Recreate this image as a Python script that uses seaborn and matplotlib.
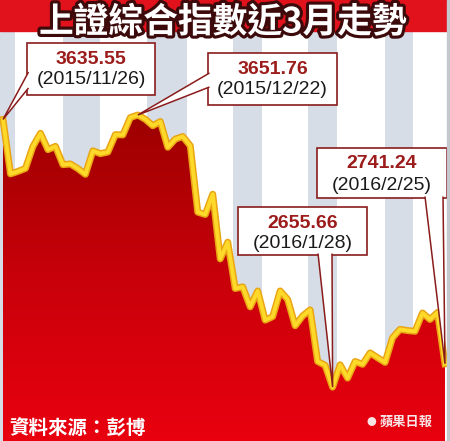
import numpy as np
import pandas as pd
import matplotlib
matplotlib.use("Agg")
import matplotlib.pyplot as plt
import matplotlib.patheffects as pe
from matplotlib.patches import Rectangle, Polygon
from matplotlib.colors import LinearSegmentedColormap
import seaborn as sns

# trading days 2015/11/26 - 2016/2/25 and Shanghai composite close
days = ["11/26", "11/27", "11/30", "12/01", "12/02", "12/03", "12/04", "12/07", "12/08", "12/09",
        "12/10", "12/11", "12/14", "12/15", "12/16", "12/17", "12/18", "12/21", "12/22", "12/23",
        "12/24", "12/25", "12/28", "12/29", "12/30", "12/31", "01/04", "01/05", "01/06", "01/07",
        "01/08", "01/11", "01/12", "01/13", "01/14", "01/15", "01/18", "01/19", "01/20", "01/21",
        "01/22", "01/25", "01/26", "01/27", "01/28", "01/29", "02/01", "02/02", "02/03", "02/04",
        "02/05", "02/15", "02/16", "02/17", "02/18", "02/19", "02/22", "02/23", "02/24", "02/25"]
close = [3635.55, 3436.30, 3445.41, 3456.31, 3536.91, 3584.82, 3524.99, 3536.93, 3470.07, 3472.44,
         3455.50, 3434.58, 3520.67, 3510.35, 3516.19, 3580.00, 3578.96, 3642.47, 3651.76, 3636.09,
         3612.49, 3627.91, 3533.78, 3563.74, 3572.88, 3539.18, 3296.26, 3287.71, 3361.84, 3125.00,
         3186.41, 3016.70, 3022.86, 2949.60, 3007.65, 2900.97, 2913.84, 3007.74, 2976.69, 2880.48,
         2916.56, 2938.51, 2749.79, 2735.56, 2655.66, 2737.60, 2688.85, 2749.57, 2739.25, 2781.02,
         2763.49, 2746.20, 2836.57, 2867.34, 2862.89, 2860.02, 2927.18, 2903.33, 2928.90, 2741.24]

marked = [0, 18, 44, 59]
marked_dates = ["2015/11/26", "2015/12/22", "2016/1/28", "2016/2/25"]

title = "上證綜合指數近3月走勢"
source = "資料來源：彭博"
brand = "蘋果日報"

df = pd.DataFrame({"idx": np.arange(len(close)), "day": days, "close": close})

plt.rcParams["font.family"] = ["Noto Sans CJK TC", "DejaVu Sans"]

W, H = 450, 441
fig = plt.figure(figsize=(4.5, 4.41), dpi=100)
ax = fig.add_axes([0, 0, 1, 1])
x0, x1 = -0.4, 59.67
y0, y1 = 2458.6, 4072.7


def px(x, y):
    # picture pixel -> data coords
    return x0 + x / W * (x1 - x0), y1 - y / H * (y1 - y0)


# background stripes
ax.add_patch(Rectangle((x0, y0), x1 - x0, y1 - y0, color="white", zorder=0))
for a, b in [(0, 15), (63, 100), (147, 187), (233, 262), (308, 337), (385, 413)]:
    xa, _ = px(a, 0)
    xb, _ = px(b, 0)
    ax.axvspan(xa, xb, color="#d6dde6", lw=0, zorder=0.5)

# gradient area under the line
fill = ax.fill_between(df["idx"], df["close"], y0, color="none", lw=0)
cmap = LinearSegmentedColormap.from_list("reds", ["#e9000f", "#c8000a", "#9c0000"])
grad = np.linspace(0, 1, 256).reshape(-1, 1)
img = ax.imshow(grad, extent=[x0, x1, y0, 3660], origin="lower", cmap=cmap,
                aspect="auto", zorder=1)
img.set_clip_path(fill.get_paths()[0], ax.transData)

sns.lineplot(data=df, x="idx", y="close", ax=ax, color="#ffd92a", lw=2.8, zorder=3,
             path_effects=[pe.Stroke(linewidth=5.0, foreground="#e9a514"), pe.Normal()])

# callout boxes
boxes = [(27, 43, 155, 95), (208, 53, 337, 105), (238, 207, 367, 255), (317, 148, 447, 198)]
bases = [[(28.5, 72), (28.5, 88)], [(209.5, 73), (209.5, 87)],
         [(318, 253.5), (332, 253.5)], [(425, 196.5), (443, 196.5)]]
edge = "#8a1c1c"
for i, k in enumerate(marked):
    bx0, by0, bx1, by1 = boxes[i]
    (ax0_, ay0_), (ax1_, ay1_) = px(bx0, by1), px(bx1, by0)
    ax.add_patch(Rectangle((ax0_, ay0_), ax1_ - ax0_, ay1_ - ay0_, facecolor="white",
                           edgecolor=edge, lw=1.2, zorder=5))
    p1 = px(*bases[i][0])
    p2 = px(*bases[i][1])
    tip = (df["idx"][k], df["close"][k])
    ax.add_patch(Polygon([p1, tip, p2], closed=False, facecolor="white",
                         edgecolor=edge, lw=1.1, zorder=5.5))
    cx = (bx0 + bx1) / 2
    ax.text(*px(cx, by0 + 16), f"{close[k]:.2f}", ha="center", va="center",
            fontsize=14, fontweight="bold", color="#9c1c1c", family="Liberation Sans", zorder=6)
    ax.text(*px(cx, by0 + 37), f"({marked_dates[i]})", ha="center", va="center",
            fontsize=14, color="#1a1a1a", family="Liberation Sans", zorder=6)

# title bar
ax.add_patch(Rectangle(px(0, 31), x1 - x0, y1 - px(0, 31)[1], color="#e1121c", zorder=7))
ax.text(*px(223, 22), title, ha="center", va="center", fontsize=25, fontweight="heavy",
        color="white", zorder=8,
        path_effects=[pe.SimplePatchShadow(offset=(1.5, -1.5), shadow_rgbFace="#777777", alpha=0.8),
                      pe.withStroke(linewidth=4.5, foreground="#3c0a0a")])

# right border
ax.add_patch(Rectangle(px(447, H), x1 - px(447, 0)[0], y1 - y0, color="#c4c8ce", zorder=9))

# footer
ax.text(*px(9, 429), source, ha="left", va="center", fontsize=14, fontweight="bold",
        color="white", zorder=8)
ax.text(*px(371, 422), "●", ha="center", va="center", fontsize=7, color="#f7e4e4", zorder=8)
ax.text(*px(406, 422), brand, ha="center", va="center", fontsize=9.5, fontweight="bold",
        color="#f7e4e4", zorder=8)

ax.set_xlim(x0, x1)
ax.set_ylim(y0, y1)
ax.axis("off")
fig.savefig("out.png", dpi=100)
